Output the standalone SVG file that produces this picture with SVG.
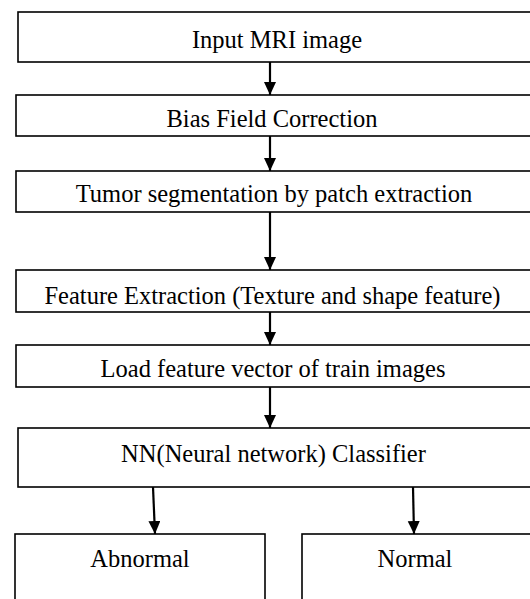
<svg xmlns="http://www.w3.org/2000/svg" width="530" height="599" viewBox="0 0 530 599">
  <style>
    .box { fill: #ffffff; stroke: #000000; stroke-width: 1.6; }
    .lbl { font-family: "Liberation Serif", "Times New Roman", serif; font-size: 24.5px; fill: #000000; text-anchor: middle; }
    .wire { stroke: #000000; stroke-width: 2.2; fill: none; marker-end: url(#head); }
  </style>
  <defs>
    <marker id="head" markerUnits="userSpaceOnUse" markerWidth="14" markerHeight="14" refX="13" refY="6" orient="auto">
      <path d="M0,0 L13,6 L0,12 Z" fill="#000000"/>
    </marker>
  </defs>
  <rect width="530" height="599" fill="#ffffff"/>

  <g id="input">
    <rect class="box" x="18" y="12" width="520" height="50"/>
    <text class="lbl" x="277" y="48">Input MRI image</text>
  </g>
  <g id="bias">
    <rect class="box" x="16" y="95" width="522" height="41"/>
    <text class="lbl" x="272" y="127">Bias Field Correction</text>
  </g>
  <g id="segmentation">
    <rect class="box" x="16" y="171" width="522" height="41"/>
    <text class="lbl" x="274" y="202">Tumor segmentation by patch extraction</text>
  </g>
  <g id="features">
    <rect class="box" x="16" y="270" width="522" height="42"/>
    <text class="lbl" x="272.5" y="304">Feature Extraction (Texture and shape feature)</text>
  </g>
  <g id="train">
    <rect class="box" x="16" y="345" width="522" height="42"/>
    <text class="lbl" x="273" y="377">Load feature vector of train images</text>
  </g>
  <g id="classifier">
    <rect class="box" x="18" y="428" width="520" height="59"/>
    <text class="lbl" x="273.5" y="462">NN(Neural network) Classifier</text>
  </g>
  <g id="abnormal">
    <rect class="box" x="15" y="534" width="250" height="80"/>
    <text class="lbl" x="140" y="567">Abnormal</text>
  </g>
  <g id="normal">
    <rect class="box" x="302" y="534" width="232" height="80"/>
    <text class="lbl" x="415" y="567">Normal</text>
  </g>

  <g id="connectors">
    <line class="wire" x1="270" y1="62" x2="270" y2="95"/>
    <line class="wire" x1="270" y1="136" x2="270" y2="171"/>
    <line class="wire" x1="270" y1="212" x2="270" y2="270"/>
    <line class="wire" x1="270" y1="312" x2="270" y2="345"/>
    <line class="wire" x1="270" y1="387" x2="270" y2="428"/>
    <line class="wire" x1="153" y1="487" x2="155" y2="534"/>
    <line class="wire" x1="413" y1="487" x2="414" y2="534"/>
  </g>
</svg>
